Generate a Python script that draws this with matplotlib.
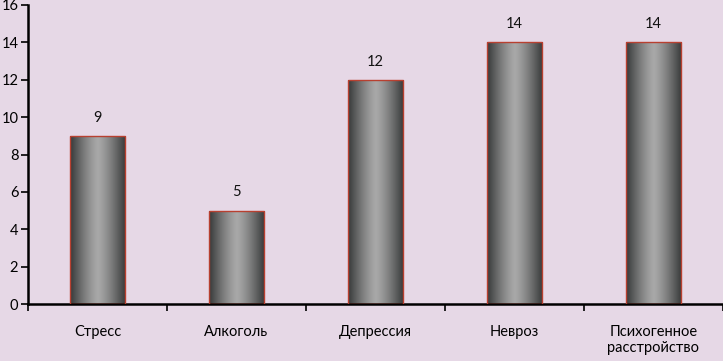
import numpy as np
import matplotlib
matplotlib.use("Agg")
import matplotlib.pyplot as plt
from matplotlib.colors import LinearSegmentedColormap

categories = ["Стресс", "Алкоголь", "Депрессия", "Невроз", "Психогенное\nрасстройство"]
values = [9, 5, 12, 14, 14]
yticks = [0, 2, 4, 6, 8, 10, 12, 14, 16]

bg = "#E6D8E6"
plt.rcParams['font.family'] = ['Lato', 'DejaVu Sans']

fig = plt.figure(figsize=(7.23, 3.61), dpi=100, facecolor=bg)
ax = fig.add_axes([28/723, 1-304/361, 1-28/723, (304-5)/361])
ax.set_facecolor(bg)

x = np.arange(len(categories))
width = 0.4
bars = ax.bar(x, values, width=width, color="none", edgecolor="#B84030", linewidth=1.0, zorder=3)

# horizontal gradient: dark edges, light centre
t = np.linspace(-1, 1, 256)
grad = 1 - np.abs(t) ** 1.3
grad = grad[np.newaxis, :]
cmap = LinearSegmentedColormap.from_list("g", ["#363838", "#a8a8a8"])
for b in bars:
    x0, y0 = b.get_x(), b.get_y()
    w, h = b.get_width(), b.get_height()
    im = ax.imshow(grad, extent=[x0, x0 + w, y0, y0 + h], aspect="auto", cmap=cmap, zorder=2)
    im.set_clip_path(b)
    ax.text(x0 + w/2, h + 0.6, f"{int(h)}", ha="center", va="bottom", fontsize=10.5, color="#111111")

ax.set_xlim(-0.5, len(categories) - 0.5)
ax.set_ylim(0, 16)
ax.set_yticks(yticks)
ax.tick_params(axis="y", direction="out", length=5, width=1.2, labelsize=10.5, pad=2, colors="#000000")
ax.set_xticks(np.arange(-0.5, len(categories), 1.0))
ax.set_xticklabels([])
ax.set_xticks(x, minor=True)
ax.set_xticklabels(categories, minor=True, fontsize=10.5, linespacing=1.2)
ax.tick_params(axis="x", which="minor", length=0, pad=15)
ax.tick_params(axis="x", which="major", direction="out", length=5, width=1.2)
for s in ["top", "right"]:
    ax.spines[s].set_visible(False)
for s in ["left", "bottom"]:
    ax.spines[s].set_linewidth(1.8)

fig.savefig("out.png", dpi=100, facecolor=bg)
